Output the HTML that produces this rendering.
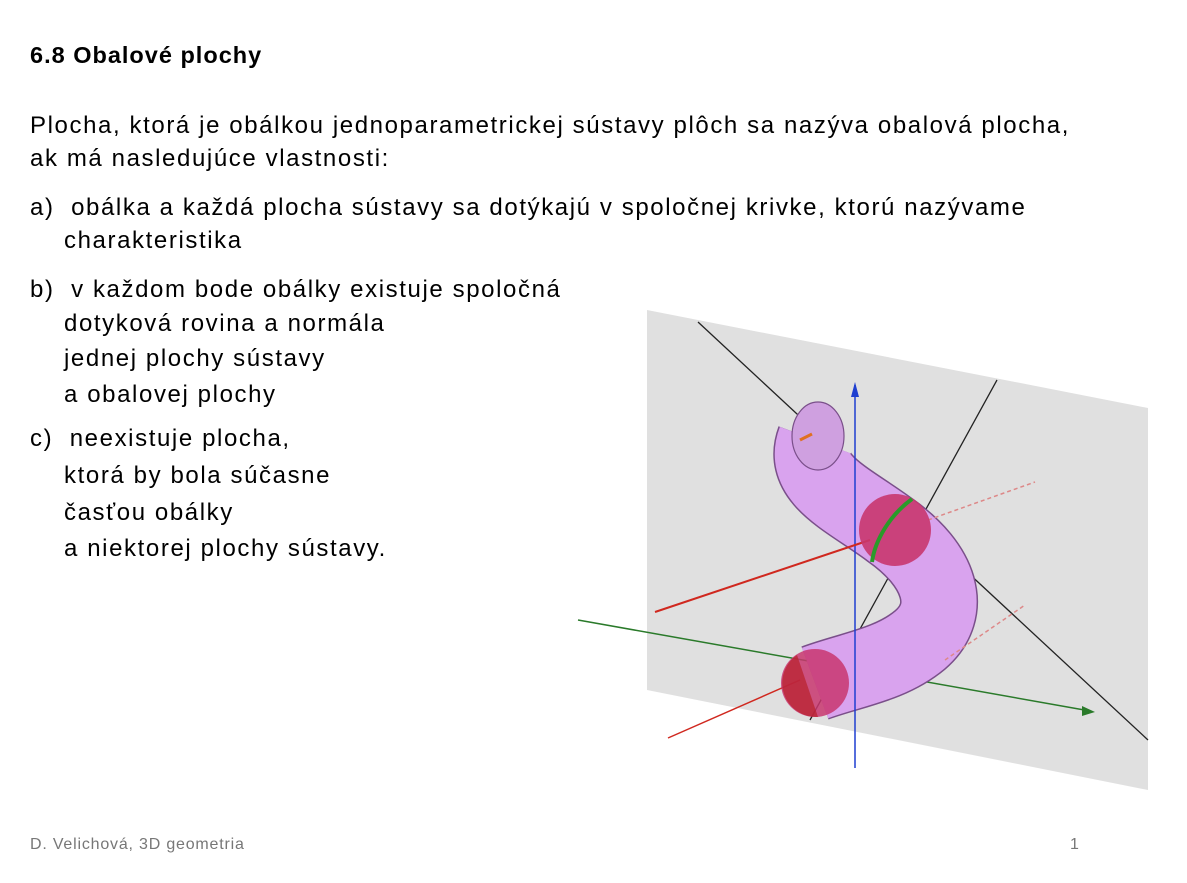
<!DOCTYPE html>
<html><head><meta charset="utf-8"><style>
body{margin:0;background:#fff;width:1187px;height:883px;overflow:hidden;position:relative;font-family:"Liberation Sans",sans-serif;color:#000}
.t{position:absolute;white-space:nowrap;font-size:24px;letter-spacing:1.6px}
h1{position:absolute;left:30px;top:42px;margin:0;font-size:23.5px;font-weight:bold;letter-spacing:1px}
.f{position:absolute;font-size:16px;color:#777;top:836px;letter-spacing:0.8px}
</style></head><body>
<h1>6.8 Obalové plochy</h1>
<div class="t" style="left:30px;top:112px">Plocha, ktorá je obálkou jednoparametrickej sústavy plôch sa nazýva obalová plocha,</div>
<div class="t" style="left:30px;top:145px">ak má nasledujúce vlastnosti:</div>
<div class="t" style="left:30px;top:194px">a)&nbsp; obálka a každá plocha sústavy sa dotýkajú v spoločnej krivke, ktorú nazývame</div>
<div class="t" style="left:64px;top:227px">charakteristika</div>
<div class="t" style="left:30px;top:276px">b)&nbsp; v každom bode obálky existuje spoločná</div>
<div class="t" style="left:64px;top:310px">dotyková rovina a normála</div>
<div class="t" style="left:64px;top:345px">jednej plochy sústavy</div>
<div class="t" style="left:64px;top:381px">a obalovej plochy</div>
<div class="t" style="left:30px;top:425px">c)&nbsp; neexistuje plocha,</div>
<div class="t" style="left:64px;top:462px">ktorá by bola súčasne</div>
<div class="t" style="left:64px;top:499px">časťou obálky</div>
<div class="t" style="left:64px;top:535px">a niektorej plochy sústavy.</div>
<div class="f" style="left:30px">D. Velichová, 3D geometria</div>
<div class="f" style="left:1070px">1</div>
<svg width="1187" height="883" style="position:absolute;left:0;top:0">
<polygon points="647,310 1148,408 1148,790 647,690" fill="#e0e0e0"/>
<line x1="698" y1="322" x2="1148" y2="740" stroke="#222" stroke-width="1.3"/>
<line x1="997" y1="380" x2="810" y2="720" stroke="#222" stroke-width="1.3"/>
<line x1="578" y1="620" x2="1090" y2="711" stroke="#2a7a2a" stroke-width="1.5"/>
<polygon points="1095,712 1082,706 1082,716" fill="#2a7a2a"/>
<path d="M815,440 C800,480 850,500 890,530 C940,565 955,610 920,640 C890,665 850,670 815,683" fill="none" stroke="#7a4f8a" stroke-width="78" stroke-linejoin="round"/>
<path d="M815,440 C800,480 850,500 890,530 C940,565 955,610 920,640 C890,665 850,670 815,683" fill="none" stroke="#d9a3ee" stroke-width="75" stroke-linejoin="round"/>
<ellipse cx="818" cy="436" rx="26" ry="34" fill="#cfa0e0" stroke="#7a4f8a" stroke-width="1.2"/>
<line x1="855" y1="385" x2="855" y2="768" stroke="#1f3fd0" stroke-width="1.5"/>
<polygon points="855,382 851,397 859,397" fill="#1f3fd0"/>
<line x1="655" y1="612" x2="870" y2="540" stroke="#d0281f" stroke-width="2"/>
<line x1="668" y1="738" x2="800" y2="680" stroke="#d0281f" stroke-width="1.5"/>
<line x1="928" y1="520" x2="1035" y2="482" stroke="#d88" stroke-width="1.5" stroke-dasharray="4,3"/>
<line x1="945" y1="660" x2="1025" y2="605" stroke="#d88" stroke-width="1.5" stroke-dasharray="4,3"/>
<circle cx="895" cy="530" r="36" fill="#c8366e" opacity="0.9"/>
<path d="M912,499 C890,515 875,540 872,562" stroke="#2a9a2a" stroke-width="4" fill="none"/>
<circle cx="815" cy="683" r="34" fill="#c8366e" opacity="0.85"/>
<path d="M797,655 A34,34 0 0 0 818,717" fill="#b81f2a" opacity="0.7"/>
<line x1="800" y1="440" x2="812" y2="434" stroke="#e07020" stroke-width="3"/>
</svg>
</body></html>
